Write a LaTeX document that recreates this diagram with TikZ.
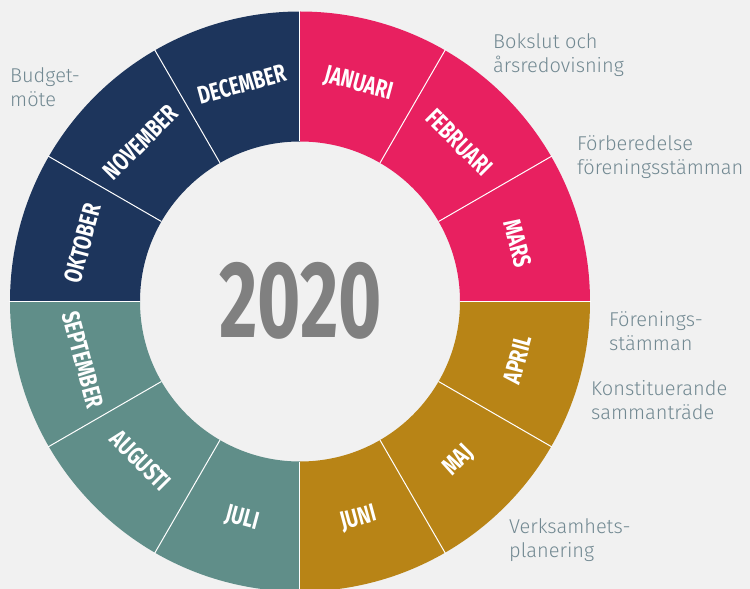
\documentclass[tikz,border=0pt]{standalone}
\usepackage{fontspec}
\setmainfont{Fira Sans}
\newfontfamily\monthfont{Fira Sans}[FakeStretch=0.75]
\newfontfamily\yearfont{Fira Sans}[FakeStretch=0.68]
\newfontfamily\notefont{Fira Sans Light}
\usepackage{tikz}
\definecolor{bg}{RGB}{241, 241, 241}
\definecolor{pinkq}{RGB}{232, 32, 96}
\definecolor{goldq}{RGB}{184, 132, 22}
\definecolor{tealq}{RGB}{96, 142, 137}
\definecolor{navyq}{RGB}{29, 53, 92}
\definecolor{yeargray}{RGB}{128, 128, 128}
\definecolor{notegray}{RGB}{114, 137, 146}
\tikzset{
  month/.style={text=white, inner sep=0pt, font=\monthfont\bfseries\fontsize{25}{25}\selectfont},
  note/.style={text=notegray, inner sep=0pt, align=left, anchor=base west, font=\notefont\fontsize{20}{24}\selectfont},
  divider/.style={draw=white, line width=1pt}
}

\begin{document}
\begin{tikzpicture}[x=1pt, y=1pt]
\useasboundingbox (-300pt, -287.5pt) rectangle (450pt, 301.5pt);
\fill [bg] (-300pt, -287.5pt) rectangle (450pt, 301.5pt);
% quarters of the wheel
\fill [pinkq] (90:160pt) arc [start angle=90, end angle=0, radius=160pt] -- (0:290pt) arc [start angle=0, end angle=90, radius=290pt] -- cycle;
\fill [goldq] (0:160pt) arc [start angle=0, end angle=-90, radius=160pt] -- (-90:290pt) arc [start angle=-90, end angle=0, radius=290pt] -- cycle;
\fill [tealq] (-90:160pt) arc [start angle=-90, end angle=-180, radius=160pt] -- (-180:290pt) arc [start angle=-180, end angle=-90, radius=290pt] -- cycle;
\fill [navyq] (180:160pt) arc [start angle=180, end angle=90, radius=160pt] -- (90:290pt) arc [start angle=90, end angle=180, radius=290pt] -- cycle;
% month borders
\draw [divider] (90:160pt) -- (90:291pt);
\draw [divider] (60:160pt) -- (60:291pt);
\draw [divider] (30:160pt) -- (30:291pt);
\draw [divider] (0:160pt) -- (0:291pt);
\draw [divider] (-30:160pt) -- (-30:291pt);
\draw [divider] (-60:160pt) -- (-60:291pt);
\draw [divider] (-90:160pt) -- (-90:291pt);
\draw [divider] (-120:160pt) -- (-120:291pt);
\draw [divider] (-150:160pt) -- (-150:291pt);
\draw [divider] (180:160pt) -- (180:291pt);
\draw [divider] (150:160pt) -- (150:291pt);
\draw [divider] (120:160pt) -- (120:291pt);
% months
\node (jan) [month, rotate=-15] at (75:225pt) {JANUARI};
\node (feb) [month, rotate=-45] at (45:225pt) {FEBRUARI};
\node (mar) [month, rotate=-75] at (15:225pt) {MARS};
\node (apr) [month, rotate=75] at (-15:225pt) {APRIL};
\node (maj) [month, rotate=45] at (-45:225pt) {MAJ};
\node (jun) [month, rotate=15] at (-75:225pt) {JUNI};
\node (jul) [month, rotate=-15] at (-105:225pt) {JULI};
\node (aug) [month, rotate=-45] at (-135:225pt) {AUGUSTI};
\node (sep) [month, rotate=-75] at (-165:225pt) {SEPTEMBER};
\node (okt) [month, rotate=75] at (165:225pt) {OKTOBER};
\node (nov) [month, rotate=45] at (135:225pt) {NOVEMBER};
\node (dec) [month, rotate=15] at (105:225pt) {DECEMBER};
\node (year) [text=yeargray, inner sep=0pt, font=\yearfont\bfseries\fontsize{109}{109}\selectfont] at (0.5pt, 1pt) {2020};
% notes (anchored at the baseline of the second line)
\node (budget) [note] at (-290pt, 195pt) {Budget-\\möte};
\node (bokslut) [note] at (193pt, 229pt) {Bokslut och\\årsredovisning};
\node (forber) [note] at (277pt, 127pt) {Förberedelse\\föreningsstämman};
\node (stamma) [note] at (309pt, -49pt) {Förenings-\\stämman};
\node (konst) [note] at (291pt, -118pt) {Konstituerande\\sammanträde};
\node (verks) [note] at (209pt, -256pt) {Verksamhets-\\planering};
\end{tikzpicture}
\end{document}
